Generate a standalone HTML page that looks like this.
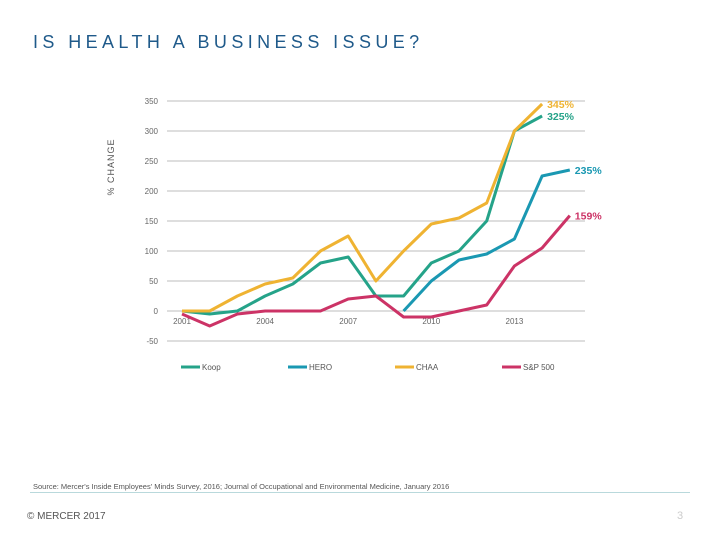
<!DOCTYPE html>
<html><head><meta charset="utf-8"><style>
body{margin:0;width:720px;height:540px;background:#fff;font-family:"Liberation Sans",sans-serif;overflow:hidden;position:relative}
.t{position:absolute;white-space:nowrap}
</style></head><body>
<div class="t" style="left:33px;top:32px;font-size:18px;letter-spacing:4.4px;color:#1f5a8a">IS HEALTH A BUSINESS ISSUE?</div>
<svg id="c" width="720" height="540" style="position:absolute;left:0;top:0" font-family="Liberation Sans, sans-serif"></svg>
<div class="t" style="left:33px;top:482px;font-size:7.5px;color:#555">Source: Mercer's Inside Employees' Minds Survey, 2016; Journal of Occupational and Environmental Medicine, January 2016</div>
<div style="position:absolute;left:30px;top:492px;width:660px;height:1px;background:#b9d9dc"></div>
<div class="t" style="left:27px;top:511px;font-size:10px;color:#555">© MERCER 2017</div>
<div class="t" style="left:677px;top:510px;font-size:11px;color:#ccc">3</div>
<script>
const years=[2001,2002,2003,2004,2005,2006,2007,2008,2009,2010,2011,2012,2013,2014,2015];
const yTicks=[350,300,250,200,150,100,50,0,-50];
const xTickYears=[2001,2004,2007,2010,2013];
const koop=[0,-5,0,25,45,80,90,25,25,80,100,150,300,325,null];
const hero=[null,null,null,null,null,null,null,null,0,50,85,95,120,225,235];
const chaa=[0,0,25,45,55,100,125,50,100,145,155,180,300,345,null];
const sp500=[-5,-25,-5,0,0,0,20,25,-10,-10,0,10,75,105,159];
const seriesNames=["Koop","HERO","CHAA","S&P 500"];
const endLabels=["325%","235%","345%","159%"];
const colors=["#25a389","#1a98b2","#efb332","#cc3366"];
const data=[koop,hero,chaa,sp500];
const svg=document.getElementById('c');const NS='http://www.w3.org/2000/svg';
const x=yr=>182+(yr-2001)*27.7;
const y=v=>311-v*0.6;
function mk(t,a){const e=document.createElementNS(NS,t);for(const k in a)e.setAttribute(k,a[k]);svg.appendChild(e);return e;}
yTicks.forEach(v=>{
 const l=mk('line',{x1:167,x2:585,y1:y(v),y2:y(v),stroke:'#bdbdbd','stroke-width':1});
 
 
 const t=mk('text',{x:158,y:y(v)+3,'text-anchor':'end','font-size':8,fill:'#666'});t.textContent=v;
 
 
});
xTickYears.forEach(yr=>{
 const t=mk('text',{x:x(yr),y:324,'text-anchor':'middle','font-size':8,fill:'#666'});t.textContent=yr;
 
 
});
const at=mk('text',{x:114,y:167,'text-anchor':'middle','font-size':9,fill:'#555','letter-spacing':'1',transform:'rotate(-90 114 167)'});at.textContent='% CHANGE';


data.forEach((s,i)=>{
 let pts=[];let last=null;
 s.forEach((v,j)=>{if(v!==null){pts.push(x(years[j])+','+y(v));last=[x(years[j]),y(v)];}});
 const p=mk('polyline',{points:pts.join(' '),fill:'none',stroke:colors[i],'stroke-width':3,'stroke-linejoin':'round'});
 
 
 const lt=mk('text',{x:last[0]+5,y:last[1]+4,'font-size':10.5,'font-weight':'bold',fill:colors[i]});lt.textContent=endLabels[i];
 
 
 const lx=181+i*107;
 const ll=mk('line',{x1:lx,x2:lx+19,y1:367,y2:367,stroke:colors[i],'stroke-width':3});
 
 
 const tt=mk('text',{x:lx+21,y:370,'font-size':8,fill:'#555'});tt.textContent=seriesNames[i];
 
 
});
</script>
</body></html>
